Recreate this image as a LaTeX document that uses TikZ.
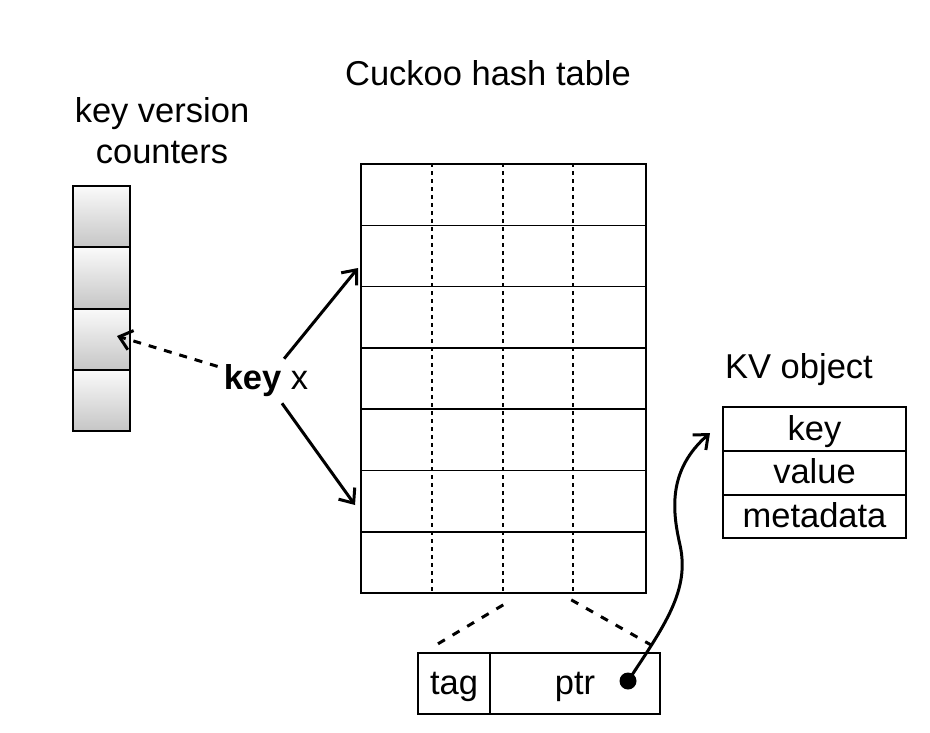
\documentclass[tikz,border=0pt]{standalone}
\usepackage{fontspec}
\setmainfont{Liberation Sans}
\usetikzlibrary{arrows.meta, positioning}

\begin{document}
\begin{tikzpicture}[x=1pt, y=-1pt,
  lbl/.style={font=\fontsize{34.5}{41}\selectfont, inner sep=0pt},
  row/.style={draw, line width=1.5pt, minimum width=285pt, minimum height=61.3pt, inner sep=0pt},
  ctr/.style={draw, line width=2pt, minimum width=57pt, minimum height=61.25pt, inner sep=0pt, top color=gray!4, bottom color=gray!45},
  cell/.style={draw, line width=2pt, outer sep=0pt, minimum height=43.7pt, minimum width=183pt, inner sep=0pt, font=\fontsize{34.5}{41}\selectfont, text height=28pt, text depth=6pt},
  entry/.style={cell, minimum height=61pt, minimum width=72pt},
  arr/.style={-{Straight Barb[length=12pt, width=20pt]}, line width=3pt},
  col/.style={line width=2pt, dash pattern=on 4pt off 4pt},
  fan/.style={line width=3pt, dash pattern=on 8pt off 9pt}
]
\useasboundingbox (0,0) rectangle (930,732);

% titles
\node[lbl, anchor=base] (tt) at (488,85) {Cuckoo hash table};
\node[lbl, align=center] (vt) at (162,131) {key version\\counters};
\node[lbl, anchor=base] (kt) at (799,378) {KV object};

% key version counters
\foreach \i in {1,...,4}
  \node[ctr] (c\i) at (101.5, 186+61.25*\i-30.6) {};

% cuckoo hash table
\foreach \i in {1,...,7}
  \node[row] (r\i) at (503.5, 164+61.3*\i-30.65) {};
\foreach \x in {72,143,213}
  \draw[col] ([xshift=\x pt]r1.north west) -- ([xshift=\x pt]r7.south west);

% KV object
\node[cell] (kvkey) at (814.5,429) {key};
\node[cell, below=0pt of kvkey] (kvval) {value};
\node[cell, below=0pt of kvval] (kvmeta) {metadata};

% one slot
\node[entry] (tag) at (454,683.5) {tag};
\node[entry, minimum width=170pt, right=0pt of tag] (ptr) {ptr};
\node[circle, fill, inner sep=0pt, minimum size=17pt] (dot) at (628,681) {};
\draw[fan] ([xshift=143pt, yshift=-11pt]r7.south west) -- ([xshift=13pt, yshift=5pt]tag.north west);
\draw[fan] ([xshift=211pt, yshift=-6pt]r7.south west) -- ([yshift=3pt]ptr.north east);

% key x and its arrows
\node[lbl, inner sep=6pt] (keyx) at (266,381) {\textbf{key} x};
\coordinate (up) at (358,268);
\coordinate (dn) at (355,505);
\coordinate (cnt) at (117,336);
\coordinate (kvin) at (710,433);
\draw[arr] (keyx) -- (up);
\draw[arr] (keyx) -- (dn);
\draw[arr, dash pattern=on 8pt off 8pt] (keyx) -- (cnt);
\draw[arr] (dot.center) .. controls (665,625) and (690,590) .. (680,545)
  .. controls (672,510) and (668,470) .. (kvin);
\end{tikzpicture}
\end{document}
